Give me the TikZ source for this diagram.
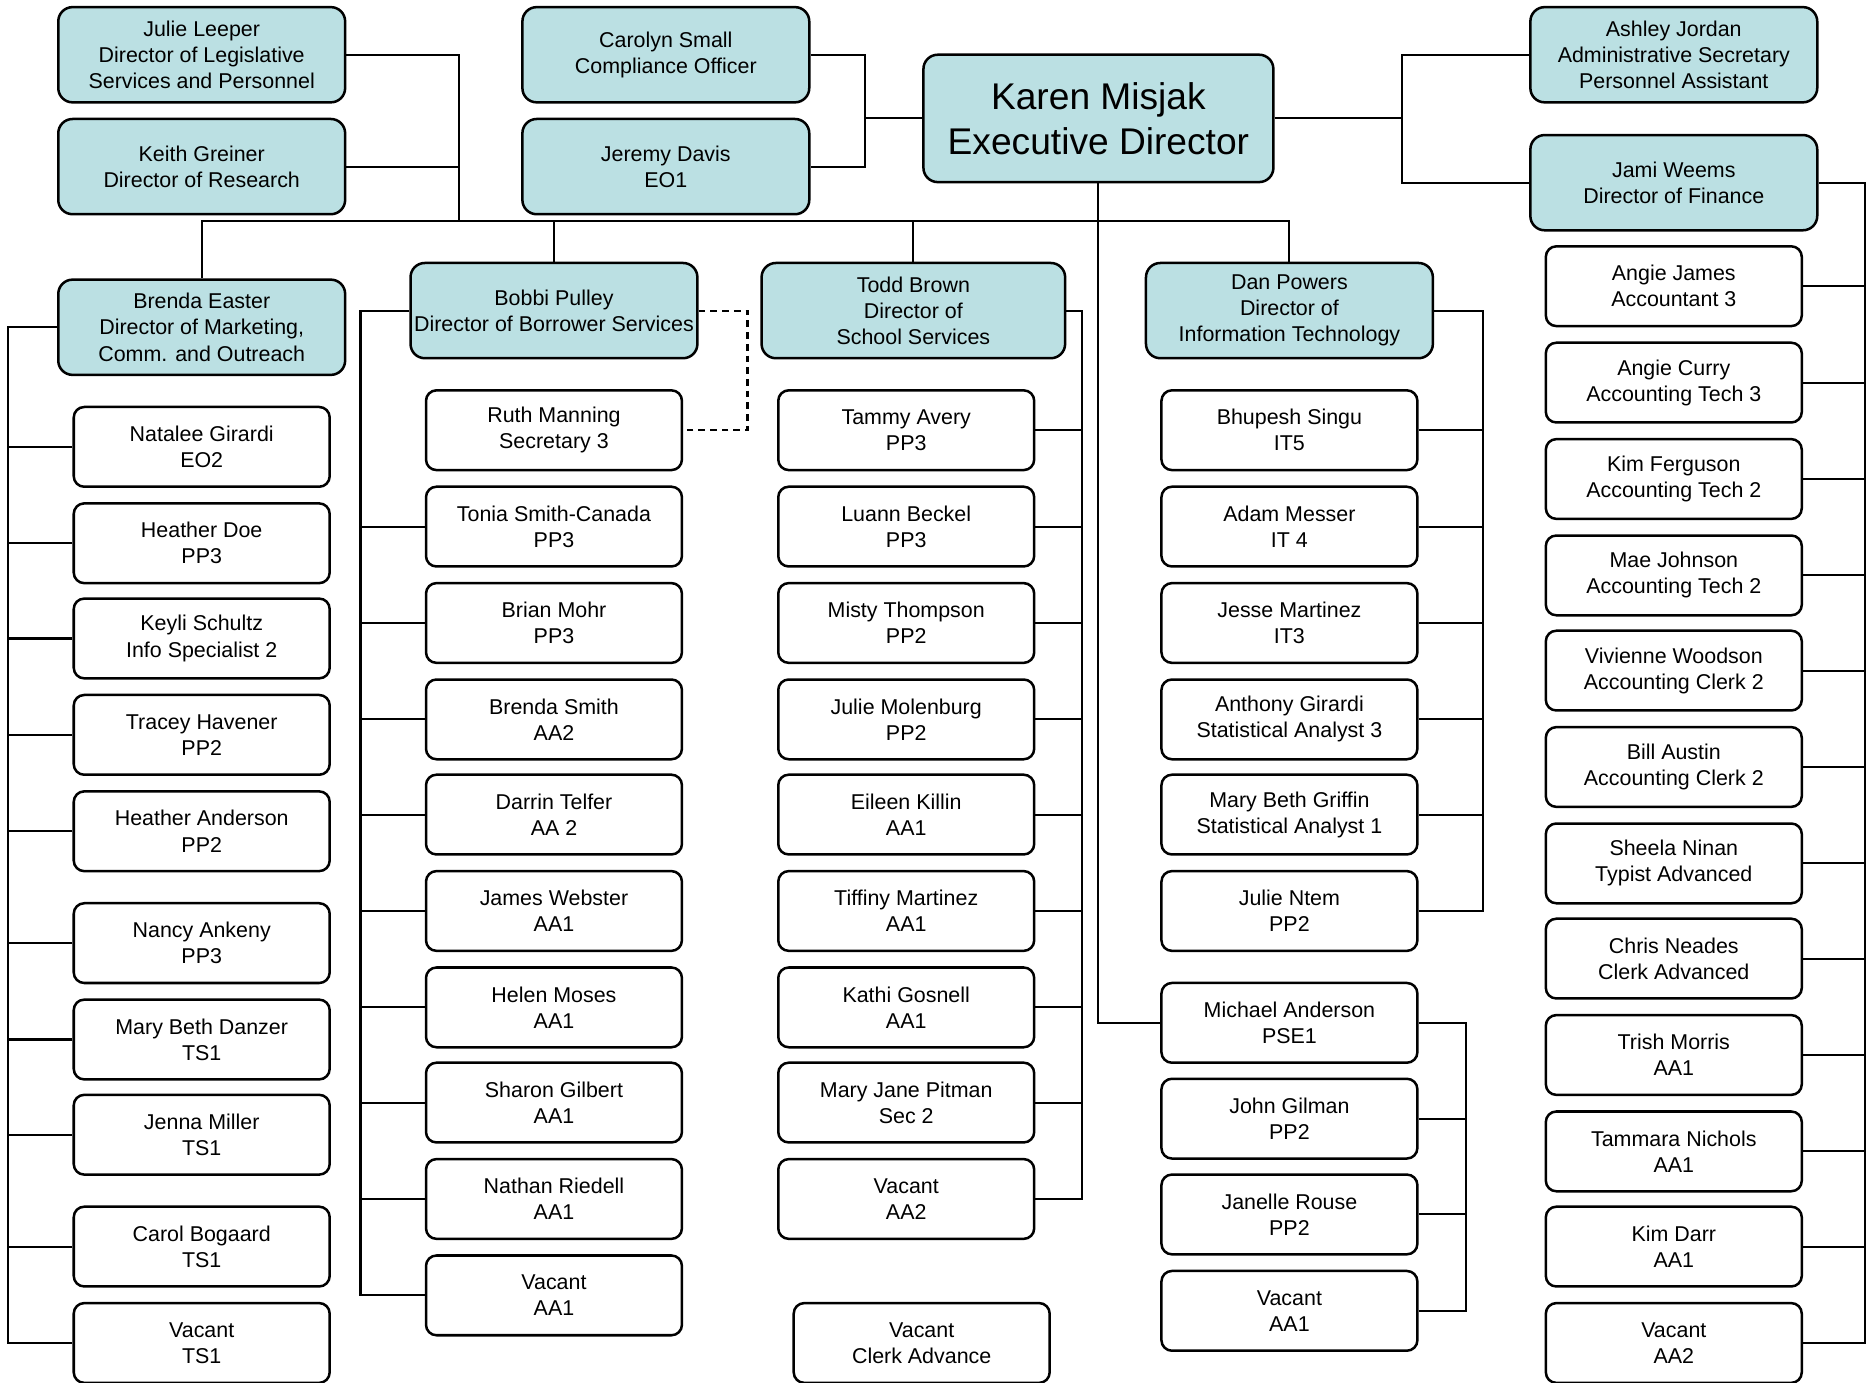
\documentclass[tikz,border=0pt]{standalone}
\usepackage{fontspec}
\setmainfont{Liberation Sans}
\usepackage{tikz}
\definecolor{headblue}{RGB}{187,224,227}

\begin{document}
\begin{tikzpicture}[x=0.025cm,y=-0.025cm,line width=1.25pt,
  every node/.style={font=\fontsize{12.8}{15.6}\selectfont,align=center,inner sep=0pt},
  head/.style={draw,line width=1.5pt,fill=headblue,rounded corners=0.3cm,
    minimum width=6.025cm,minimum height=2cm},
  staff/.style={draw,line width=1.5pt,fill=white,rounded corners=0.22cm,
    minimum width=5.375cm,minimum height=1.675cm}]

\useasboundingbox (0,0) rectangle (1568,1162);

% Executive director
\node[head,minimum width=7.35cm,minimum height=2.675cm,
    font=\fontsize{22.2}{27}\selectfont] (karen) at (923,99.5)
    {Karen Misjak\\Executive Director};

% Top row
\node[head] (julie) at (169.5,46) {Julie Leeper\\Director of Legislative\\Services and Personnel};
\node[head] (keith) at (169.5,140) {Keith Greiner\\Director of Research};
\node[head] (carolyn) at (559.5,46) {Carolyn Small\\Compliance Officer};
\node[head] (jeremy) at (559.5,140) {Jeremy Davis\\EO1};
\node[head] (ashley) at (1406.5,46) {Ashley Jordan\\Administrative Secretary\\Personnel Assistant};
\node[head] (jami) at (1406.5,153.5) {Jami Weems\\Director of Finance};

% Directors
\node[head] (brenda) at (169.5,275) {Brenda Easter\\Director of Marketing,\\Comm. and Outreach};
\node[head] (bobbi) at (465.5,261) {Bobbi Pulley\\Director of Borrower Services};
\node[head,minimum width=6.375cm] (todd) at (767.5,261) {Todd Brown\\Director of\\School Services};
\node[head] (dan) at (1083.5,261) {Dan Powers\\Director of\\Information Technology};

% Marketing staff
\node[staff] (mkt1) at (169.5,375.5) {Natalee Girardi\\EO2};
\node[staff] (mkt2) at (169.5,456.5) {Heather Doe\\PP3};
\node[staff] (mkt3) at (169.5,536.5) {Keyli Schultz\\Info Specialist 2};
\node[staff] (mkt4) at (169.5,617.5) {Tracey Havener\\PP2};
\node[staff] (mkt5) at (169.5,698.5) {Heather Anderson\\PP2};
\node[staff] (mkt6) at (169.5,792.5) {Nancy Ankeny\\PP3};
\node[staff] (mkt7) at (169.5,873.5) {Mary Beth Danzer\\TS1};
\node[staff] (mkt8) at (169.5,953.5) {Jenna Miller\\TS1};
\node[staff] (mkt9) at (169.5,1047.5) {Carol Bogaard\\TS1};
\node[staff] (mkt10) at (169.5,1128.5) {Vacant\\TS1};

% Borrower services staff
\node[staff] (bor1) at (465.5,361.5) {Ruth Manning\\Secretary 3};
\node[staff] (bor2) at (465.5,442.5) {Tonia Smith-Canada\\PP3};
\node[staff] (bor3) at (465.5,523.5) {Brian Mohr\\PP3};
\node[staff] (bor4) at (465.5,604.5) {Brenda Smith\\AA2};
\node[staff] (bor5) at (465.5,684.5) {Darrin Telfer\\AA 2};
\node[staff] (bor6) at (465.5,765.5) {James Webster\\AA1};
\node[staff] (bor7) at (465.5,846.5) {Helen Moses\\AA1};
\node[staff] (bor8) at (465.5,926.5) {Sharon Gilbert\\AA1};
\node[staff] (bor9) at (465.5,1007.5) {Nathan Riedell\\AA1};
\node[staff] (bor10) at (465.5,1088.5) {Vacant\\AA1};

% School services staff
\node[staff] (sch1) at (761.5,361.5) {Tammy Avery\\PP3};
\node[staff] (sch2) at (761.5,442.5) {Luann Beckel\\PP3};
\node[staff] (sch3) at (761.5,523.5) {Misty Thompson\\PP2};
\node[staff] (sch4) at (761.5,604.5) {Julie Molenburg\\PP2};
\node[staff] (sch5) at (761.5,684.5) {Eileen Killin\\AA1};
\node[staff] (sch6) at (761.5,765.5) {Tiffiny Martinez\\AA1};
\node[staff] (sch7) at (761.5,846.5) {Kathi Gosnell\\AA1};
\node[staff] (sch8) at (761.5,926.5) {Mary Jane Pitman\\Sec 2};
\node[staff] (sch9) at (761.5,1007.5) {Vacant\\AA2};
\node[staff] (sch10) at (774.5,1128.5) {Vacant\\Clerk Advance};

% IT staff
\node[staff] (it1) at (1083.5,361.5) {Bhupesh Singu\\IT5};
\node[staff] (it2) at (1083.5,442.5) {Adam Messer\\IT 4};
\node[staff] (it3) at (1083.5,523.5) {Jesse Martinez\\IT3};
\node[staff] (it4) at (1083.5,604.5) {Anthony Girardi\\Statistical Analyst 3};
\node[staff] (it5) at (1083.5,684.5) {Mary Beth Griffin\\Statistical Analyst 1};
\node[staff] (it6) at (1083.5,765.5) {Julie Ntem\\PP2};

% PSE group
\node[staff] (pse1) at (1083.5,859.5) {Michael Anderson\\PSE1};
\node[staff] (pse2) at (1083.5,940) {John Gilman\\PP2};
\node[staff] (pse3) at (1083.5,1020.5) {Janelle Rouse\\PP2};
\node[staff] (pse4) at (1083.5,1101.5) {Vacant\\AA1};

% Finance staff
\node[staff] (fin1) at (1406.5,240.5) {Angie James\\Accountant 3};
\node[staff] (fin2) at (1406.5,321.5) {Angie Curry\\Accounting Tech 3};
\node[staff] (fin3) at (1406.5,402.5) {Kim Ferguson\\Accounting Tech 2};
\node[staff] (fin4) at (1406.5,483.5) {Mae Johnson\\Accounting Tech 2};
\node[staff] (fin5) at (1406.5,563.5) {Vivienne Woodson\\Accounting Clerk 2};
\node[staff] (fin6) at (1406.5,644.5) {Bill Austin\\Accounting Clerk 2};
\node[staff] (fin7) at (1406.5,725.5) {Sheela Ninan\\Typist Advanced};
\node[staff] (fin8) at (1406.5,805.5) {Chris Neades\\Clerk Advanced};
\node[staff] (fin9) at (1406.5,886.5) {Trish Morris\\AA1};
\node[staff] (fin10) at (1406.5,967.5) {Tammara Nichols\\AA1};
\node[staff] (fin11) at (1406.5,1047.5) {Kim Darr\\AA1};
\node[staff] (fin12) at (1406.5,1128.5) {Vacant\\AA2};

% Bus below the top row
\coordinate (busL) at (169.5,186);
\coordinate (busR) at (1083.5,186);
\coordinate (legis) at (386,186);
\draw (brenda.north) -- (busL) -- (busR) -- (dan.north);
\draw (bobbi.north) -- (bobbi.north |- busL);
\draw (todd.north) -- (todd.north |- busL);
\draw (julie.east) -| (legis);
\draw (keith.east) -- (keith.east -| legis);

% Karen to her staff
\coordinate (comp) at (727,99.5);
\coordinate (admin) at (1178,99.5);
\draw (carolyn.east) -| (comp) |- (jeremy.east);
\draw (karen.west) -- (comp);
\draw (ashley.west) -| (admin) |- (jami.west);
\draw (karen.east) -- (admin);
\draw (karen.south) |- (pse1.west);

% Dotted line to Ruth
\draw[dashed,dash pattern=on 4pt off 3pt] (bobbi.east) -- ++(41,0) |- (bor1.east);

% Marketing rail
\draw (brenda.west) -- ++(-41,0) coordinate (mr) |- (mkt10.west);
\draw (mkt1.west) -- (mkt1.west -| mr) (mkt2.west) -- (mkt2.west -| mr)
      (mkt3.west) -- (mkt3.west -| mr) (mkt4.west) -- (mkt4.west -| mr)
      (mkt5.west) -- (mkt5.west -| mr) (mkt6.west) -- (mkt6.west -| mr)
      (mkt7.west) -- (mkt7.west -| mr) (mkt8.west) -- (mkt8.west -| mr)
      (mkt9.west) -- (mkt9.west -| mr);

% Borrower rail
\draw (bobbi.west) -- ++(-41,0) coordinate (br) |- (bor10.west);
\draw (bor2.west) -- (bor2.west -| br) (bor3.west) -- (bor3.west -| br)
      (bor4.west) -- (bor4.west -| br) (bor5.west) -- (bor5.west -| br)
      (bor6.west) -- (bor6.west -| br) (bor7.west) -- (bor7.west -| br)
      (bor8.west) -- (bor8.west -| br) (bor9.west) -- (bor9.west -| br);

% School rail
\draw (todd.east) -- ++(13,0) coordinate (sr) |- (sch9.east);
\draw (sch1.east) -- (sch1.east -| sr) (sch2.east) -- (sch2.east -| sr)
      (sch3.east) -- (sch3.east -| sr) (sch4.east) -- (sch4.east -| sr)
      (sch5.east) -- (sch5.east -| sr) (sch6.east) -- (sch6.east -| sr)
      (sch7.east) -- (sch7.east -| sr) (sch8.east) -- (sch8.east -| sr);

% IT rail
\draw (dan.east) -- ++(41,0) coordinate (ir) |- (it6.east);
\draw (it1.east) -- (it1.east -| ir) (it2.east) -- (it2.east -| ir)
      (it3.east) -- (it3.east -| ir) (it4.east) -- (it4.east -| ir)
      (it5.east) -- (it5.east -| ir);

% PSE rail
\draw (pse1.east) -- ++(40,0) coordinate (pr) |- (pse4.east);
\draw (pse2.east) -- (pse2.east -| pr) (pse3.east) -- (pse3.east -| pr);

% Finance rail
\draw (jami.east) -- ++(39,0) coordinate (fr) |- (fin12.east);
\draw (fin1.east) -- (fin1.east -| fr) (fin2.east) -- (fin2.east -| fr)
      (fin3.east) -- (fin3.east -| fr) (fin4.east) -- (fin4.east -| fr)
      (fin5.east) -- (fin5.east -| fr) (fin6.east) -- (fin6.east -| fr)
      (fin7.east) -- (fin7.east -| fr) (fin8.east) -- (fin8.east -| fr)
      (fin9.east) -- (fin9.east -| fr) (fin10.east) -- (fin10.east -| fr)
      (fin11.east) -- (fin11.east -| fr);

\end{tikzpicture}
\end{document}
